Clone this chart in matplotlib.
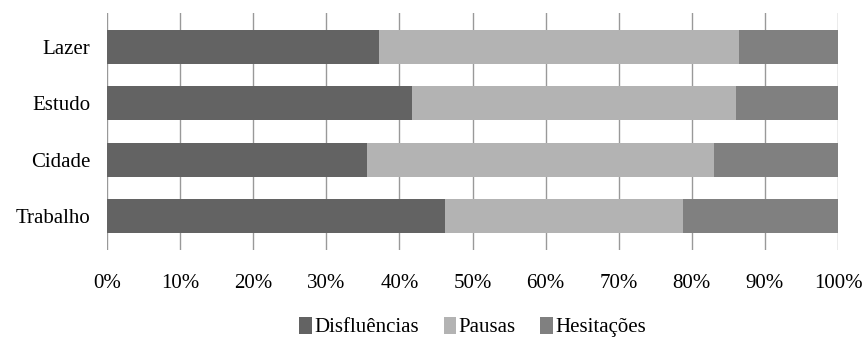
import matplotlib.pyplot as plt
import numpy as np

categories = ["Trabalho", "Cidade", "Estudo", "Lazer"]
disfluencias = [46.2, 35.6, 41.7, 37.2]
pausas = [32.6, 47.5, 44.3, 49.2]
hesitacoes = [21.2, 16.9, 14.0, 13.6]

plt.rcParams['font.family'] = ['Liberation Serif', 'DejaVu Serif']

fig = plt.figure(figsize=(8.66, 3.43), dpi=100)
ax = fig.add_axes([107/866, 1 - 250/343, 731/866, 237/343])

y = np.arange(len(categories))
h = 0.6
left = np.zeros(len(categories))
series = [("Disfluências", disfluencias, "#636363"),
          ("Pausas", pausas, "#b3b3b3"),
          ("Hesitações", hesitacoes, "#808080")]
for name, vals, col in series:
    ax.barh(y, vals, left=left, height=h, color=col, label=name, zorder=3)
    left = left + np.array(vals)

ax.set_xlim(0, 100)
ax.set_ylim(-0.6, 3.6)
ax.set_xticks(np.arange(0, 101, 10))
ax.set_xticklabels([f"{v}%" for v in range(0, 101, 10)], fontsize=15)
ax.set_yticks(y)
ax.set_yticklabels(categories, fontsize=15)
ax.tick_params(length=0, pad=12)
ax.tick_params(axis='x', pad=17)
ax.grid(axis='x', color='#999999', linewidth=1, zorder=0)
for s in ax.spines.values():
    s.set_visible(False)

ax.legend(loc='center', bbox_to_anchor=(0.5, -0.325), ncol=3, frameon=False,
          prop={'family': 'Liberation Serif', 'size': 15},
          handlelength=0.6, handleheight=0.9, handletextpad=0.1,
          columnspacing=1.2)

fig.savefig("out.png", dpi=100)
